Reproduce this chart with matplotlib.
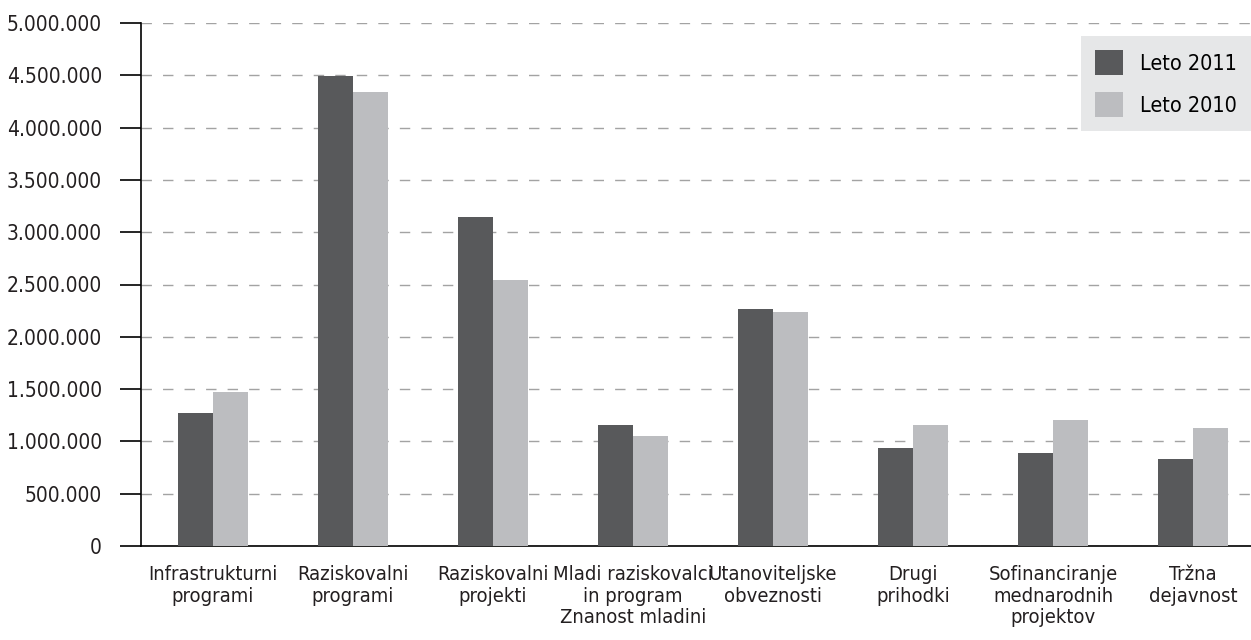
import numpy as np
import matplotlib.pyplot as plt
from matplotlib.ticker import FuncFormatter

# Categories and values (EUR)
categories = ['Infrastrukturni\nprogrami', 'Raziskovalni\nprogrami', 'Raziskovalni\nprojekti',
              'Mladi raziskovalci\nin program\nZnanost mladini', 'Utanoviteljske\nobveznosti',
              'Drugi\nprihodki', 'Sofinanciranje\nmednarodnih\nprojektov', 'Tržna\ndejavnost']
leto_2011 = [1270000, 4490000, 3150000, 1157000, 2270000, 937000, 890000, 832000]
leto_2010 = [1470000, 4340000, 2545000, 1050000, 2240000, 1157000, 1205000, 1128000]
y_ticks = [0, 500000, 1000000, 1500000, 2000000, 2500000, 3000000, 3500000, 4000000, 4500000, 5000000]

plt.rcParams['font.family'] = ['DejaVu Sans']
plt.rcParams['font.stretch'] = 'condensed'

fig = plt.figure(figsize=(12.51, 6.4), dpi=100)
ax = fig.add_axes([141 / 1251, (640 - 546) / 640, (1251 - 141) / 1251, (546 - 23) / 640])

x = np.arange(len(categories))
w = 0.25
ax.bar(x - w / 2, leto_2011, width=w, color='#58595b', label='Leto 2011', zorder=3)
ax.bar(x + w / 2, leto_2010, width=w, color='#bcbdc0', label='Leto 2010', zorder=3)

ax.set_xlim(-0.514, 7.414)
ax.set_ylim(0, 5000000)
ax.set_yticks(y_ticks)
ax.yaxis.set_major_formatter(FuncFormatter(lambda v, p: f'{int(v):,}'.replace(',', '.')))
ax.set_xticks(x)
ax.set_xticklabels(categories, fontsize=14.5, color='#231f20', linespacing=1.15)
ax.tick_params(axis='x', length=0, pad=14)
ax.tick_params(axis='y', length=15, width=1.2, labelsize=15, labelcolor='#231f20', pad=13)

ax.grid(axis='y', color='#a3a3a3', linestyle=(0, (7.5, 8)), linewidth=1.0, zorder=0)
ax.set_axisbelow(True)
for s in ['top', 'right']:
    ax.spines[s].set_visible(False)
ax.spines['left'].set_linewidth(1.2)
ax.spines['bottom'].set_linewidth(1.2)

leg = ax.legend(loc='upper right', bbox_to_anchor=(1.0, 0.975), fontsize=15.5, frameon=True,
                fancybox=False, handlelength=1.3, handleheight=1.4, borderpad=0.65,
                labelspacing=0.8, handletextpad=0.8, borderaxespad=0)
leg.get_frame().set_facecolor('#e6e7e8')
leg.get_frame().set_edgecolor('none')
leg.get_frame().set_alpha(1)

fig.savefig('out.png', dpi=100)
